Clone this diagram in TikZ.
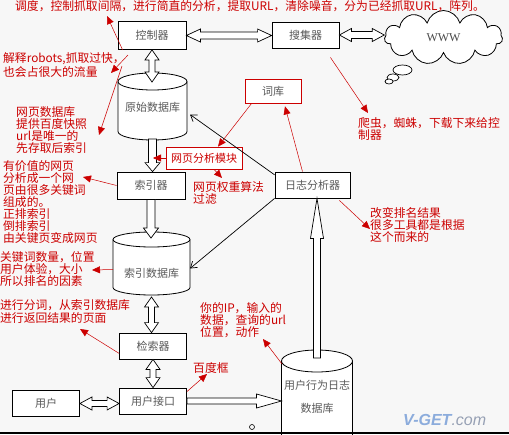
\documentclass[tikz,border=0pt]{standalone}
\usepackage{fontspec}
\setmainfont{Noto Sans CJK SC}
\newfontfamily\wwwfont{Liberation Serif}
\newfontfamily\wmfont{Liberation Sans}
\usetikzlibrary{shapes.geometric,shapes.symbols,arrows.meta,calc}
\definecolor{myred}{RGB}{204,0,0}
\definecolor{bgcol}{RGB}{247,247,247}
\definecolor{wmblue}{RGB}{140,172,220}
\definecolor{wmgray}{RGB}{150,160,180}
\tikzset{
  box/.style={draw=black, line width=0.8pt, fill=white, inner sep=0pt, text=black!65,
    font=\fontsize{11}{12}\selectfont},
  redbox/.style={draw=myred, line width=0.7pt, fill=white, inner sep=0pt,
    font=\fontsize{11}{12}\selectfont},
  cylarea/.style={inner sep=0pt, outer sep=0pt},
  cylline/.style={draw=black, line width=0.8pt},
  cyltext/.style={inner sep=0pt, text=black!65, font=\fontsize{11}{12}\selectfont},
  note/.style={text=myred, font=\fontsize{11.8}{12}\selectfont, align=left, anchor=north west, inner sep=0pt},
  redarr/.style={draw=myred, line width=0.5pt, -{Triangle[length=8pt,width=7pt]}},
  hollow/.style={draw=black, line width=0.7pt, fill=white, line join=miter},
  blackarr/.style={draw=black, line width=0.7pt, -{Straight Barb[length=6pt,width=8pt]}}
}
% hollow double vertical arrow: #1 top, #2 bottom, #3 shaft half width, #4 head half width, #5 head length
\newcommand\hdV[5]{\draw[hollow] let \p1=(#1), \p2=(#2) in (\x1,\y1) -- (\x1+#4,\y1-#5) -- (\x1+#3,\y1-#5) -- (\x1+#3,\y2+#5) -- (\x1+#4,\y2+#5) -- (\x1,\y2) -- (\x1-#4,\y2+#5) -- (\x1-#3,\y2+#5) -- (\x1-#3,\y1-#5) -- (\x1-#4,\y1-#5) -- cycle;}
\newcommand\hsDown[5]{\draw[hollow] let \p1=(#1), \p2=(#2) in (\x1-#3,\y1) -- (\x1+#3,\y1) -- (\x1+#3,\y2+#5) -- (\x1+#4,\y2+#5) -- (\x1,\y2) -- (\x1-#4,\y2+#5) -- (\x1-#3,\y2+#5) -- cycle;}
\newcommand\hsUp[5]{\draw[hollow] let \p1=(#1), \p2=(#2) in (\x1-#3,\y1) -- (\x1+#3,\y1) -- (\x1+#3,\y2-#5) -- (\x1+#4,\y2-#5) -- (\x1,\y2) -- (\x1-#4,\y2-#5) -- (\x1-#3,\y2-#5) -- cycle;}
\newcommand\hdH[5]{\draw[hollow] let \p1=(#1), \p2=(#2) in (\x1,\y1) -- (\x1+#5,\y1+#4) -- (\x1+#5,\y1+#3) -- (\x2-#5,\y1+#3) -- (\x2-#5,\y1+#4) -- (\x2,\y1) -- (\x2-#5,\y1-#4) -- (\x2-#5,\y1-#3) -- (\x1+#5,\y1-#3) -- (\x1+#5,\y1-#4) -- cycle;}
\newcommand\hsRight[5]{\draw[hollow] let \p1=(#1), \p2=(#2) in (\x1,\y1+#3) -- (\x2-#5,\y1+#3) -- (\x2-#5,\y1+#4) -- (\x2,\y1) -- (\x2-#5,\y1-#4) -- (\x2-#5,\y1-#3) -- (\x1,\y1-#3) -- cycle;}
% cylinder drawing: #1 cx, #2 y of top ellipse centre, #3 y of bottom ellipse centre, #4 rx, #5 ry
\newcommand\cylDraw[5]{%
  \fill[white] (#1-#4,#2) -- (#1-#4,#3) arc[start angle=180,end angle=360,x radius=#4pt,y radius=#5pt]
     -- (#1+#4,#2) arc[start angle=0,end angle=180,x radius=#4pt,y radius=#5pt] -- cycle;
  \draw[cylline] (#1-#4,#2) -- (#1-#4,#3) arc[start angle=180,end angle=360,x radius=#4pt,y radius=#5pt] -- (#1+#4,#2);
  \draw[cylline] (#1,#2) ellipse[x radius=#4pt, y radius=#5pt];}
\begin{document}
\begin{tikzpicture}[x=1pt,y=-1pt]
\clip (0,0) rectangle (509,434);
\fill[bgcol] (0,0) rectangle (509,434);

% ---- boxes ----
\node[box, minimum width=68pt, minimum height=28pt] (ctrl) at (152,35.5) {控制器};
\node[box, minimum width=67pt, minimum height=26pt] (sj) at (305.5,35) {搜集器};
\node[box, minimum width=68pt, minimum height=27pt] (idx) at (151,185.5) {索引器};
\node[box, minimum width=67pt, minimum height=26pt] (jsq) at (153,346) {检索器};
\node[box, minimum width=67pt, minimum height=26pt] (yhjk) at (153,401) {用户接口};
\node[box, minimum width=67pt, minimum height=26pt] (yh) at (46,403.5) {用户};
\node[box, minimum width=75pt, minimum height=26pt] (rz) at (312.5,185) {日志分析器};
\node[redbox, text=black!65, minimum width=56pt, minimum height=24pt] (ck) at (273,91) {词库};
\node[redbox, text=myred, minimum width=76pt, minimum height=22pt] (wyfx) at (204,158) {网页分析模块};

% ---- cylinders ----
\cylDraw{152.5}{81.5}{131.5}{34.5}{8.5}
\node[cylarea, minimum width=69pt, minimum height=67pt] (ysdb) at (152.5,106.5) {};
\node[cyltext] (ysdbt) at (152.5,107) {原始数据库};
\cylDraw{151.5}{239.5}{287.5}{38.5}{7.5}
\node[cylarea, minimum width=77pt, minimum height=63pt] (sydb) at (151.5,263.5) {};
\node[cyltext] (sydbt) at (151.5,273) {索引数据库};
\cylDraw{317}{361}{470}{35.5}{11}
\node[cylarea, minimum width=71pt, minimum height=131pt] (logdb) at (317,415.5) {};
\node[cyltext] (logt1) at (317,385) {用户行为日志};
\node[cyltext] (logt2) at (317,408) {数据库};

% ---- cloud ----
\node[cloud, draw=black, line width=0.8pt, fill=white, cloud puffs=11, aspect=2,
      minimum width=118pt, minimum height=54pt, inner sep=0pt] (www) at (443.5,37.5)
      {\wwwfont\fontsize{12}{12}\selectfont\color{black!70}WWW};
\draw[line width=0.7pt, fill=white] (402.5,70) ellipse[x radius=9.5, y radius=5];
\draw[line width=0.7pt, fill=white] (393,77.5) ellipse[x radius=6, y radius=3.5];
\draw[line width=0.7pt, fill=white] (389,81.5) ellipse[x radius=4, y radius=2.5];

% ---- hollow arrows ----
\hdH{ctrl.east}{sj.west}{3.5pt}{6.5pt}{14pt}
\hdH{sj.east}{www.west}{3.5pt}{6.5pt}{12pt}
\hdV{ctrl.south}{$(ysdb.north)+(0,9)$}{3pt}{7pt}{10pt}
\hsDown{$(ysdb.south)+(0,-1)$}{idx.north}{4pt}{7.5pt}{9pt}
\hsDown{idx.south}{$(sydb.north)+(0,6)$}{4pt}{7.5pt}{10pt}
\hdV{$(sydb.south)+(0,2)$}{jsq.north}{3pt}{7pt}{10pt}
\hdV{jsq.south}{yhjk.north}{3pt}{7pt}{10pt}
\hdH{yh.east}{yhjk.west}{3pt}{6.5pt}{12pt}
\hsRight{yhjk.east}{logdb.west |- yhjk.east}{3pt}{7pt}{25pt}
\hsUp{$(logdb.north)+(0,8)$}{rz.south}{3.5pt}{6.5pt}{40pt}

% ---- black thin arrows ----
\draw[blackarr] (rz.165) -- ($(ysdb.east)+(3,8)$);
\draw[blackarr] (rz.south west) -- ($(sydb.east)+(0,5)$);

% ---- red notes ----
\node[note] (n0) at (15,0) {调度，控制抓取间隔，进行简直的分析，提取URL，清除噪音，分为已经抓取URL，阵列。};
\node[note] (n1) at (3,52) {解释robots,抓取过快，\\[1pt]也会占很大的流量};
\node[note] (n2) at (16,106) {网页数据库\\提供百度快照\\url是唯一的\\先存取后索引};
\node[note] (n3) at (3,160) {有价值的网页\\分析成一个网\\页由很多关键词\\组成的。\\正排索引\\倒排索引\\由关键页变成网页};
\node[note] (n4) at (0,251) {关键词数量，位置\\用户体验，大小\\所以排名的因素};
\node[note] (n5) at (0,299) {进行分词，从索引数据库\\[1pt]进行返回结果的页面};
\node[note] (n6) at (193,362) {百度框};
\node[note] (n7) at (200,302) {你的IP，输入的\\数据，查询的url\\位置，动作};
\node[note] (n8) at (358,117) {爬虫，蜘蛛，下载下来给控\\制器};
\node[note] (n9) at (370,207) {改变排名结果\\很多工具都是根据\\这个而来的};
\node[note] (n10) at (193,181) {网页权重算法\\过滤};

% ---- red arrow tips ----
\coordinate (t1) at (107,16);
\coordinate (s2) at (128,55);
\coordinate (t2) at (111,73);
\coordinate (s3) at (122,66);
\coordinate (t3) at (99,135);
\coordinate (t4) at (153,158);
\coordinate (t6) at (222,178);
\coordinate (t8) at (83,177);
\coordinate (t9) at (92,270);
\coordinate (t10) at (80,329);
\coordinate (t11) at (207,374);
\coordinate (t12) at (263,339);
\coordinate (t13) at (368,113);
\coordinate (t14) at (370,229);

\draw[redarr] ($(ctrl.south west)+(5,0)$) -- (t1);
\draw[redarr] (s2) -- (t2);
\draw[redarr] (s3) -- (t3);
\draw[redarr] (wyfx.west) -- (t4);
\draw[redarr] ($(ck.south west)+(7,0)$) -- ($(wyfx.north)+(14,0)$);
\draw[redarr] ($(wyfx.south)+(10,0)$) -- (t6);
\draw[redarr] ($(rz.north)+(-10,0)$) -- ($(ck.south)+(12,3)$);
\draw[redarr] (idx.west) -- (t8);
\draw[redarr] ($(sydb.west)+(0,6)$) -- (t9);
\draw[redarr] ($(jsq.south west)+(0,-6)$) -- (t10);
\draw[redarr] ($(yhjk.north east)+(0,4)$) -- (t11);
\draw[redarr] ($(logdb.north)+(-35,14)$) -- (t12);
\draw[redarr] ($(sj.south east)+(-9,9)$) -- (t13);
\draw[redarr] ($(rz.south east)+(-11,2)$) -- (t14);

% ---- misc ----
\draw[line width=0.6pt] (252,427) circle[radius=2.5];
\node[anchor=west, inner sep=0pt] (wm) at (403,420)
  {\wmfont\fontsize{16}{16}\selectfont\textcolor{wmblue}{\bfseries\itshape V-GET}\textcolor{wmgray}{\itshape .com}};
\draw[line width=1.5pt] (0,432.8) -- (509,432.8);
\end{tikzpicture}
\end{document}
